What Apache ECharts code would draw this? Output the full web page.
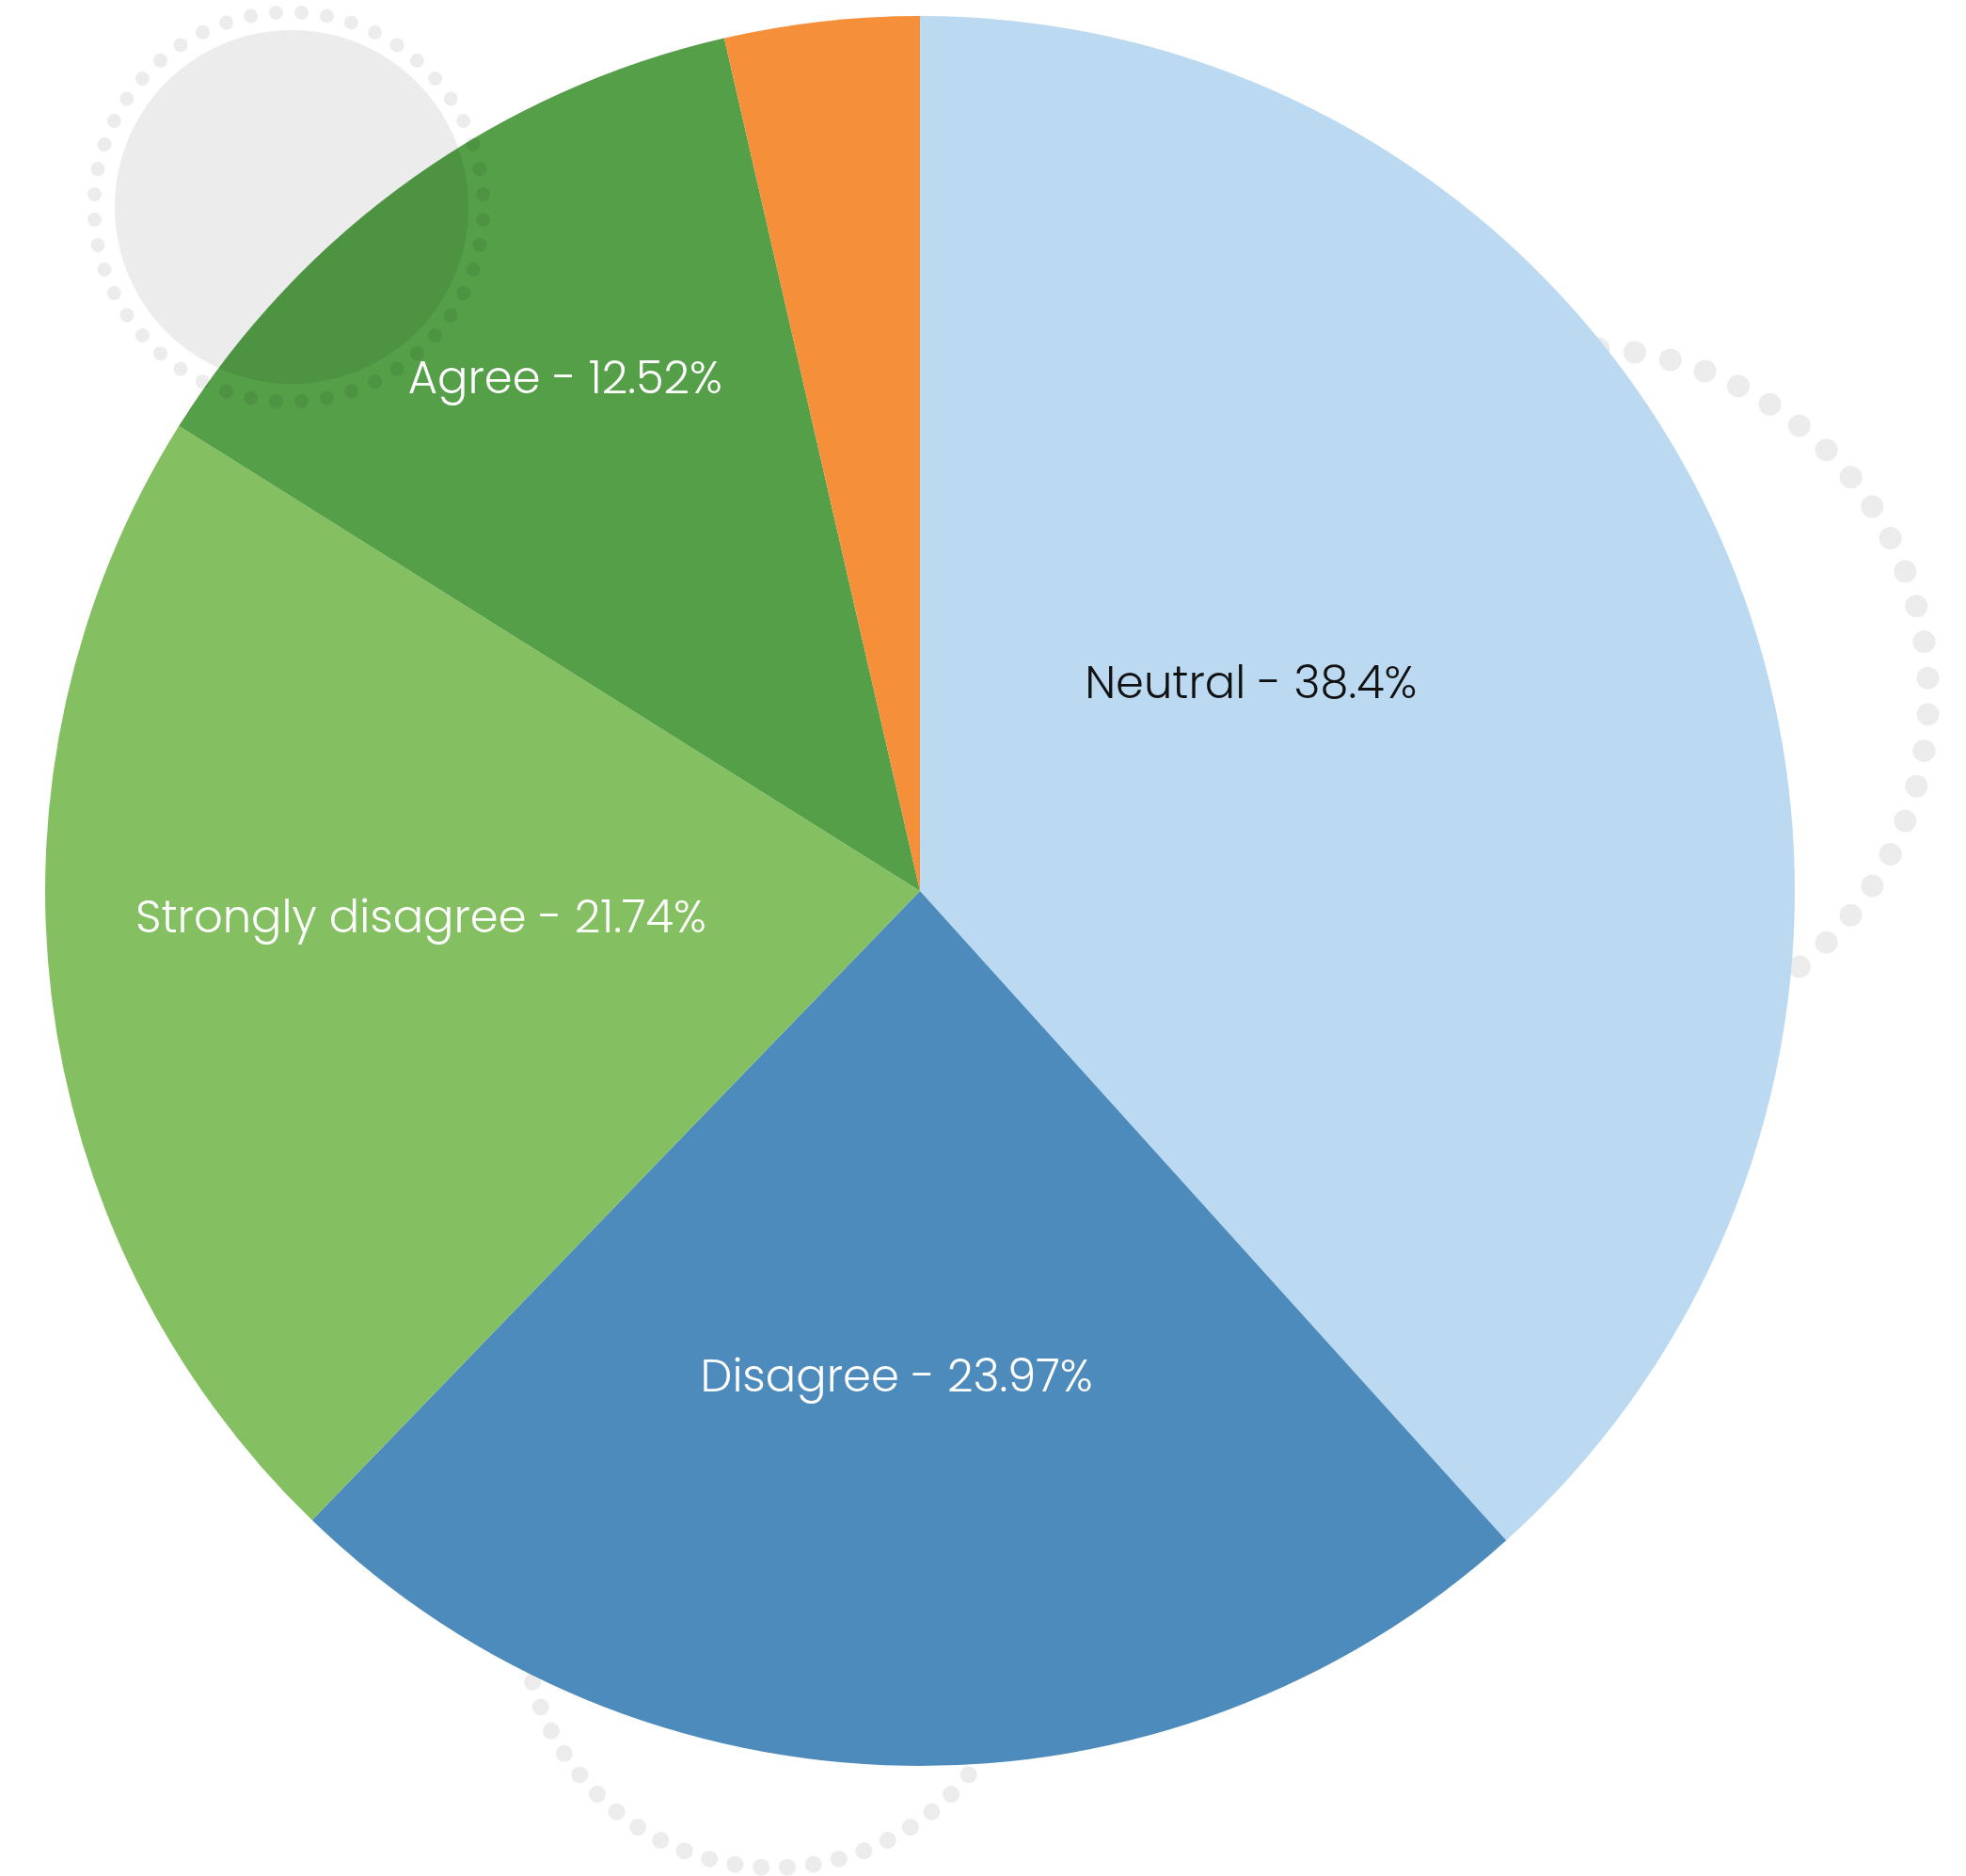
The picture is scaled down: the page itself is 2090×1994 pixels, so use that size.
<!DOCTYPE html>
<html>
<head>
<meta charset="utf-8">
<script src="https://cdn.jsdelivr.net/npm/echarts@6/dist/echarts.min.js"></script>
<style>
  html, body { margin: 0; padding: 0; background: #ffffff; }
  #chart { width: 2090px; height: 1994px; }
</style>
</head>
<body>
<div id="chart"></div>
<script>
// ---- Data ----
const categories = ['Neutral', 'Disagree', 'Strongly disagree', 'Agree', 'Strongly agree'];
const values = [38.4, 23.97, 21.74, 12.52, 3.6];

// ---- Styling (kept separate from data) ----
const sliceColors = ['#bbdaf2', '#4e8bbd', '#84c062', '#549f48', '#f68f3a'];
const labelColors = ['#111111', '#ffffff', '#ffffff', '#ffffff', '#ffffff'];
const labelNudges = [[-85, -49], [-17, 52], [-66, -25], [-106, -160], [0, 0]];

// decorative dotted rings (background ornaments)
function ring(cx, cy, R, n, dotR, fill, z) {
  const els = [];
  const step = 2 * Math.PI / n;
  for (let i = 0; i < n; i++) {
    const a = step / 2 + i * step;
    els.push({
      type: 'circle', z: z, silent: true,
      shape: { cx: cx + R * Math.cos(a), cy: cy + R * Math.sin(a), r: dotR },
      style: { fill: fill }
    });
  }
  return els;
}
const behindFill = '#ececec';
const frontFill = 'rgba(0,0,0,0.075)';
const graphics = []
  .concat(ring(1680, 740, 370, 60, 12, behindFill, 0))
  .concat(ring(823, 1719, 266, 60, 9, behindFill, 0))
  .concat([{ type: 'circle', z: 100, silent: true, shape: { cx: 310, cy: 220, r: 188 }, style: { fill: frontFill } }])
  .concat(ring(307, 220, 207, 48, 7.5, frontFill, 100));

const pieData = categories.map((name, i) => ({
  name: name,
  value: values[i],
  itemStyle: { color: sliceColors[i] },
  label: { color: labelColors[i], offset: labelNudges[i] }
}));

const chart = echarts.init(document.getElementById('chart'), null, { renderer: 'canvas' });
chart.setOption({
  animation: false,
  backgroundColor: '#ffffff',
  graphic: { elements: graphics },
  series: [{
    type: 'pie',
    z: 2,
    center: [978, 947],
    radius: 930,
    startAngle: 90,
    clockwise: true,
    minShowLabelAngle: 15,
    avoidLabelOverlap: false,
    itemStyle: { borderWidth: 0 },
    emphasis: { disabled: true },
    label: {
      show: true,
      position: 'inside',
      formatter: '{b} - {c}%',
      fontFamily: 'Poppins, Inter, "Noto Sans", sans-serif',
      fontWeight: 300,
      fontSize: 48
    },
    labelLine: { show: false },
    data: pieData
  }]
});
</script>
</body>
</html>
